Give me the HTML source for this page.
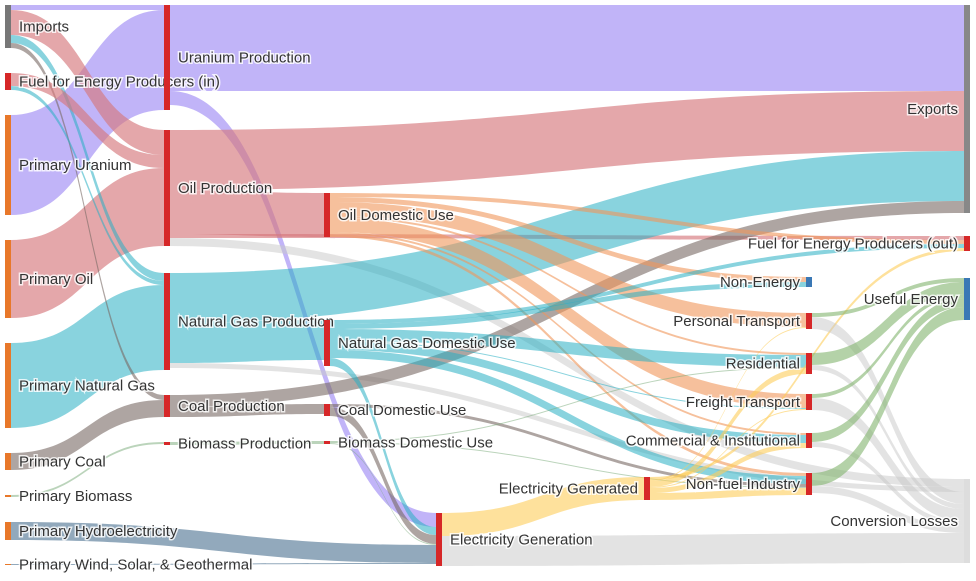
<!DOCTYPE html>
<html><head><meta charset="utf-8"><style>
html,body{margin:0;padding:0;background:#fff;}
svg{display:block;font-family:"Liberation Sans",Arial,sans-serif;}
.lbl{font-size:15px;fill:#333;paint-order:stroke;stroke:#fff;stroke-width:3px;stroke-opacity:0.8;}
</style></head><body>
<svg id="chart" width="976" height="581"></svg>
<script>
// ---- data ----
const nodeNames = ["Imports","Fuel for Energy Producers (in)","Primary Uranium","Primary Oil","Primary Natural Gas","Primary Coal","Primary Biomass","Primary Hydroelectricity","Primary Wind, Solar, & Geothermal",
"Uranium Production","Oil Production","Natural Gas Production","Coal Production","Biomass Production",
"Oil Domestic Use","Natural Gas Domestic Use","Coal Domestic Use","Biomass Domestic Use",
"Electricity Generation","Electricity Generated",
"Non-Energy","Personal Transport","Residential","Freight Transport","Commercial & Institutional","Non-fuel Industry",
"Exports","Fuel for Energy Producers (out)","Useful Energy","Conversion Losses"];
const nodeColumn = [0,0,0,0,0,0,0,0,0,1,1,1,1,1,2,2,2,2,3,4,5,5,5,5,5,5,6,6,6,6];
const linkSource = [2,3,4,5,6,0,0,0,0,1,1,7,8,
 9,9,10,10,10,10,11,11,11,12,12,13,
 14,14,14,14,14,14,14,15,15,15,15,15,15,15,16,16,17,17,17,
 18,18,19,19,19,19,19,19,
 21,21,22,22,23,23,24,24,25,25];
const linkTarget = [9,10,11,12,13,10,11,12,9,10,11,18,18,
 26,18,26,14,29,27,26,15,29,26,16,17,
 27,20,21,23,22,24,25,27,20,22,24,25,18,23,18,25,22,25,18,
 19,29,22,24,25,21,23,27,
 28,29,28,29,28,29,28,29,28,29];
const linkValue = [100,78,85,17,2,25,8,5,5,13,4,18,1,
 86,14,60,44,8,4,50,40,5,12,10,3,
 4,5,14,14,2,2,3,4,5,12,8,8,8,1,9,3,1,1,1,
 23,30,6,5,7,1,1,3,
 4,12,12,5,4,12,9,5,13,7];
const linkKind = ["u","o","g","c","b","o","g","c","u","o","g","h","h",
 "u","u","o","o","l","o","g","g","l","c","c","b",
 "od","od","od","od","od","od","od","g","g","g","g","g","g","g","c","c","b","b","b",
 "e","l","e","e","e","e","e","e",
 "ue","l","ue","l","ue","l","ue","l","ue","l"];
// ---- layout config ----
const colX = [5,164,324,436,644,806,964];
const nodeTop = [5,73,115,240,343,453,495,522,564, 5,130,273,395,442, 193,320,404,441, 513,477, 277,313,353,394,433,473, 5,236,278,479];
const kindColor = {u:"rgba(160,140,245,0.65)",o:"rgba(214,120,125,0.65)",g:"rgba(40,175,195,0.55)",c:"rgba(120,105,100,0.6)",b:"rgba(120,170,120,0.5)",h:"rgba(110,140,165,0.75)",l:"rgba(200,200,200,0.5)",od:"rgba(240,150,90,0.6)",e:"rgba(253,205,90,0.6)",ue:"rgba(130,180,110,0.6)"};
const nodeColor = i => i===0?"#777":(i>=2&&i<=8)?"#e8782a":i===26?"#888":(i===28||i===20)?"#3a78b5":i===29?"#ddd":"#d62728";
const NW=6, SCALE=1;
const svg=document.getElementById('chart');const NS="http://www.w3.org/2000/svg";
const inSum=nodeNames.map(()=>0), outSum=nodeNames.map(()=>0);
linkValue.forEach((v,i)=>{outSum[linkSource[i]]+=v;inSum[linkTarget[i]]+=v;});
const nodeH=nodeNames.map((n,i)=>Math.max(1,Math.max(inSum[i],outSum[i])*SCALE));
const nodeY=nodeTop;
const outOff=nodeNames.map(()=>0), inOff=nodeNames.map(()=>0);
const order=linkValue.map((v,i)=>i);
const outOrder=[...order].sort((a,b)=>nodeY[linkTarget[a]]-nodeY[linkTarget[b]]);
const inOrder=[...order].sort((a,b)=>nodeY[linkSource[a]]-nodeY[linkSource[b]]);
const sy=[],ty=[];
outOrder.forEach(i=>{const s=linkSource[i];sy[i]=nodeY[s]+outOff[s];outOff[s]+=linkValue[i]*SCALE;});
inOrder.forEach(i=>{const t=linkTarget[i];ty[i]=nodeY[t]+inOff[t];inOff[t]+=linkValue[i]*SCALE;});
const gL=document.createElementNS(NS,'g');svg.appendChild(gL);


order.forEach(i=>{
 const s=linkSource[i],t=linkTarget[i],w=linkValue[i]*SCALE;
 const x0=colX[nodeColumn[s]]+NW,x1=colX[nodeColumn[t]],xm=(x0+x1)/2;
 const y0=sy[i],y1=ty[i];
 const p=document.createElementNS(NS,'path');
 p.setAttribute('d',`M${x0},${y0}C${xm},${y0} ${xm},${y1} ${x1},${y1}L${x1},${y1+w}C${xm},${y1+w} ${xm},${y0+w} ${x0},${y0+w}Z`);
 p.setAttribute('fill',kindColor[linkKind[i]]);
 
 
 gL.appendChild(p);
});
const gN=document.createElementNS(NS,'g');svg.appendChild(gN);
nodeNames.forEach((n,i)=>{
 const c=nodeColumn[i],x=colX[c],y=nodeY[i],h=nodeH[i];
 const r=document.createElementNS(NS,'rect');
 r.setAttribute('x',x);r.setAttribute('y',y);r.setAttribute('width',NW);r.setAttribute('height',h);
 r.setAttribute('fill',nodeColor(i));
 
 
 gN.appendChild(r);
 const t=document.createElementNS(NS,'text');
 const right=(c===4||c===5||c===6);
 t.setAttribute('x',right?x-6:x+NW+8);
 t.setAttribute('y',y+h/2+5);
 t.setAttribute('text-anchor',right?'end':'start');
 t.setAttribute('class','lbl');
 t.textContent=n;
 
 
 gN.appendChild(t);
});
</script>
</body></html>
